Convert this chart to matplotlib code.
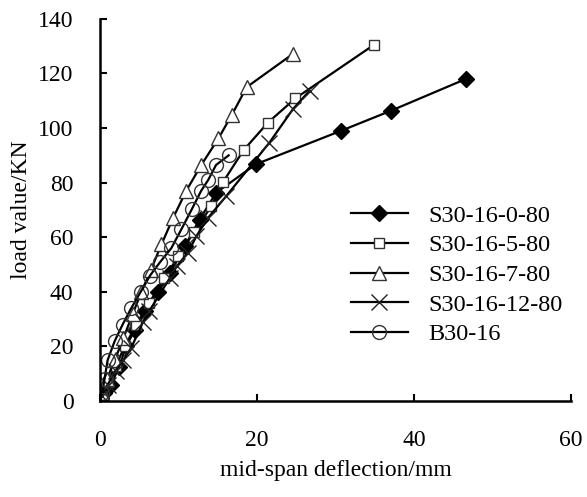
import matplotlib
matplotlib.use("Agg")
import matplotlib.pyplot as plt

plt.rcParams['font.family'] = ['Liberation Serif', 'DejaVu Serif']

labels = ["S30-16-0-80", "S30-16-5-80", "S30-16-7-80", "S30-16-12-80", "B30-16"]

x_s0 = [0.2, 0.5, 1.4, 2.5, 3.3, 4.5, 5.8, 7.4, 9.0, 10.8, 12.7, 14.8, 19.9, 30.7, 37.1, 46.6]
y_s0 = [1, 3, 6, 12.6, 20, 26, 33, 40, 47, 56.7, 66.5, 76.3, 86.8, 99, 106.4, 118]

x_s5 = [0.1, 0.3, 1.0, 2.0, 3.2, 4.6, 6.3, 8.2, 10.0, 12.0, 14.2, 15.7, 18.3, 21.4, 24.9, 34.9]
y_s5 = [0.5, 2, 7, 13, 20, 28, 36, 45, 53, 62, 71.4, 80.3, 91.9, 102, 110.9, 130.5]

x_s7 = [0.1, 0.3, 0.9, 1.9, 3.0, 4.2, 5.3, 6.5, 7.85, 9.3, 11.0, 12.9, 15.1, 16.8, 18.7, 24.6]
y_s7 = [0.5, 3, 8, 15, 23, 32, 40, 48, 57.4, 66.9, 77, 86.4, 96.2, 104.8, 115, 127.2]

x_s12 = [0.3, 1.0, 2.0, 3.0, 4.0, 5.5, 6.3, 8.9, 9.8, 11.2, 12.3, 13.8, 16.1, 21.6, 24.6, 26.7]
y_s12 = [2, 6, 11, 15, 19.5, 29, 33, 45, 49.4, 54.3, 60.4, 67.2, 75.1, 94.7, 107, 113.7]

x_b = [0.1, 0.3, 0.6, 1.0, 1.9, 2.9, 4.0, 5.2, 6.4, 7.7, 9.1, 10.4, 11.7, 12.9, 13.8, 14.8, 16.4]
y_b = [0.5, 3, 8, 15, 22, 28, 34, 40, 46, 51, 56, 63, 70.2, 77, 81, 86.5, 90]

fig = plt.figure(figsize=(5.87, 4.97), dpi=100)
ax = fig.add_axes([0.170, 0.193, 0.803, 0.769])

lw = 1.6
ax.plot(x_s0, y_s0, color='black', lw=lw, marker='D', ms=8, mfc='black', mec='black', label=labels[0])
ax.plot(x_s5, y_s5, color='black', lw=lw, marker='s', ms=7, mfc='white', mec='#333333', mew=1.0, label=labels[1])
ax.plot(x_s7, y_s7, color='black', lw=lw, marker='^', ms=10, mfc='white', mec='#333333', mew=1.0, label=labels[2])
ax.plot(x_s12, y_s12, color='black', lw=lw, marker='x', ms=12, mec='#222222', mew=1.0, label=labels[3])
ax.plot(x_b, y_b, color='black', lw=lw, marker='o', ms=10, mfc='none', mec='#333333', mew=1.0, label=labels[4])

ax.set_xlim(0, 60)
ax.set_ylim(0, 140)
ax.set_xticks([0, 20, 40, 60])
ax.set_yticks(range(0, 141, 20))
ax.tick_params(direction='in', length=5, width=1.5, labelsize=17)
ax.tick_params(axis='y', pad=19)
ax.tick_params(axis='x', pad=21)
for s in ['top', 'right']:
    ax.spines[s].set_visible(False)
for s in ['left', 'bottom']:
    ax.spines[s].set_linewidth(1.8)

ax.set_xlabel('mid-span deflection/mm', fontsize=17, labelpad=6)
ax.set_ylabel('load value/KN', fontsize=17, labelpad=4)

ax.legend(loc='upper left', bbox_to_anchor=(0.507, 0.545), frameon=False, fontsize=17.5,
          handlelength=2.35, labelspacing=0.31, handletextpad=0.82, borderpad=0)

fig.savefig('out.png', dpi=100)
